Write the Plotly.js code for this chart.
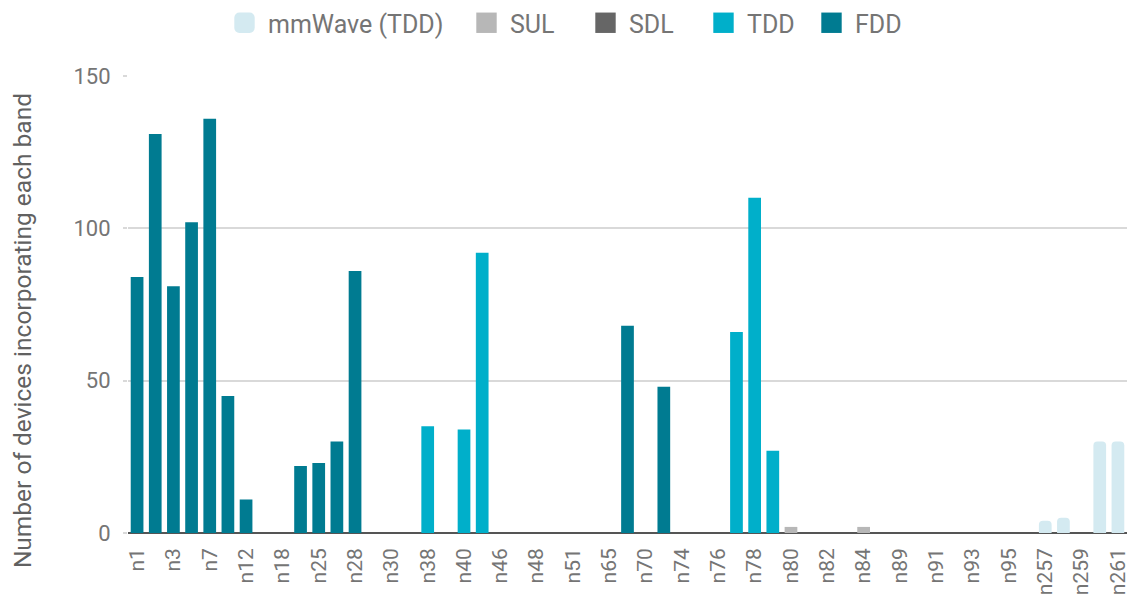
<!DOCTYPE html>
<html>
<head>
<meta charset="utf-8">
<script src="https://cdn.plot.ly/plotly-3.0.1.min.js"></script>
<style>
  html, body { margin: 0; padding: 0; background: #fff; }
  #chart { width: 1129px; height: 604px; }
</style>
</head>
<body>
<div id="chart"></div>
<script>
// Bands (categories)
const bands = ["n1","n2","n3","n5","n7","n8","n12","n14","n18","n20","n25","n26","n28","n29","n30","n34","n38","n39","n40","n41","n46","n47","n48","n50","n51","n53","n65","n66","n70","n71","n74","n75","n76","n77","n78","n79","n80","n81","n82","n83","n84","n86","n89","n90","n91","n92","n93","n94","n95","n96","n257","n258","n259","n260","n261"];

// Series values per band (null = band not of this type)
const fdd = [84,131,81,102,136,45,11,0,0,22,23,30,86,null,0,null,null,null,null,null,null,null,null,null,null,null,0,68,0,48,0,null,null,null,null,null,null,null,null,null,null,null,null,null,0,0,0,0,null,null,null,null,null,null,null];
const tdd = [null,null,null,null,null,null,null,null,null,null,null,null,null,null,null,0,35,0,34,92,0,0,0,0,0,0,null,null,null,null,null,null,null,66,110,27,null,null,null,null,null,null,null,0,null,null,null,null,null,0,null,null,null,null,null];
const sdl = [null,null,null,null,null,null,null,null,null,null,null,null,null,0,null,null,null,null,null,null,null,null,null,null,null,null,null,null,null,null,null,0,0,null,null,null,null,null,null,null,null,null,null,null,null,null,null,null,null,null,null,null,null,null,null];
const sul = [null,null,null,null,null,null,null,null,null,null,null,null,null,null,null,null,null,null,null,null,null,null,null,null,null,null,null,null,null,null,null,null,null,null,null,null,2,0,0,0,2,0,0,null,null,null,null,null,0,null,null,null,null,null,null];
const mmwave = [null,null,null,null,null,null,null,null,null,null,null,null,null,null,null,null,null,null,null,null,null,null,null,null,null,null,null,null,null,null,null,null,null,null,null,null,null,null,null,null,null,null,null,null,null,null,null,null,null,null,4,5,0,30,30];

// Every other band is labelled on the axis
const tickBands = bands.filter((b, i) => i % 2 === 0);
const yTicks = [0, 50, 100, 150];
const yTitle = "Number of devices incorporating each band";

const font = "Roboto, 'Open Sans', sans-serif";
const gray = "#757575";

function tr(name, y, color, lw, radius) {
  return {
    type: "bar", name: name, x: bands, y: y,
    marker: { color: color, cornerradius: radius || 0 },
    legendwidth: lw,
    hoverinfo: "x+y+name"
  };
}

const data = [
  tr("mmWave (TDD)", mmwave, "#d4eaf1", 190, 4),
  tr("SUL", sul, "#b7b7b7", 67),
  tr("SDL", sdl, "#666666", 66),
  tr("TDD", tdd, "#00afca", 56),
  tr("FDD", fdd, "#007b91", 48)
];

const layout = {
  width: 1129, height: 604,
  margin: { l: 128, r: 2, t: 76, b: 71 },
  paper_bgcolor: "#ffffff", plot_bgcolor: "#ffffff",
  barmode: "overlay",
  bargap: 0.3,
  font: { family: font, color: gray, size: 20 },
  showlegend: true,
  legend: {
    orientation: "h", x: 0.5, xanchor: "center", y: 1, yanchor: "top",
    yref: "container", xref: "container", traceorder: "normal",
    itemwidth: 37,
    font: { family: font, color: gray, size: 25 }
  },
  xaxis: {
    type: "category",
    tickmode: "array", tickvals: tickBands, ticktext: tickBands,
    tickangle: -90,
    tickfont: { family: font, size: 21, color: gray },
    ticklabelstandoff: 10,
    showgrid: false, zeroline: false, showline: false,
    ticks: "", automargin: false
  },
  yaxis: {
    range: [0, 150],
    tickmode: "array", tickvals: yTicks,
    tickfont: { family: font, size: 22, color: gray },
    ticklabelstandoff: 8,
    showgrid: true, gridcolor: "#d9d9d9", gridwidth: 2,
    zeroline: true, zerolinecolor: "#555555", zerolinewidth: 2,
    ticks: "outside", ticklen: 4, tickcolor: "#d9d9d9", tickwidth: 2,
    showline: false, automargin: false
  },
  annotations: [{
    text: yTitle, textangle: -90, showarrow: false,
    xref: "paper", yref: "paper", x: -0.106, y: 0.442,
    xanchor: "center", yanchor: "middle",
    font: { family: font, size: 24.5, color: "#616161" }
  }]
};

Plotly.newPlot("chart", data, layout, { displayModeBar: false, staticPlot: true }).then(function (gd) {
  // enlarge legend swatches to match the reference's larger squares
  gd.querySelectorAll(".legend .legendpoints path").forEach(function (p) {
    const t = p.getAttribute("transform") || "";
    p.setAttribute("transform", t + " scale(1.7)");
  });
});
</script>
</body>
</html>
